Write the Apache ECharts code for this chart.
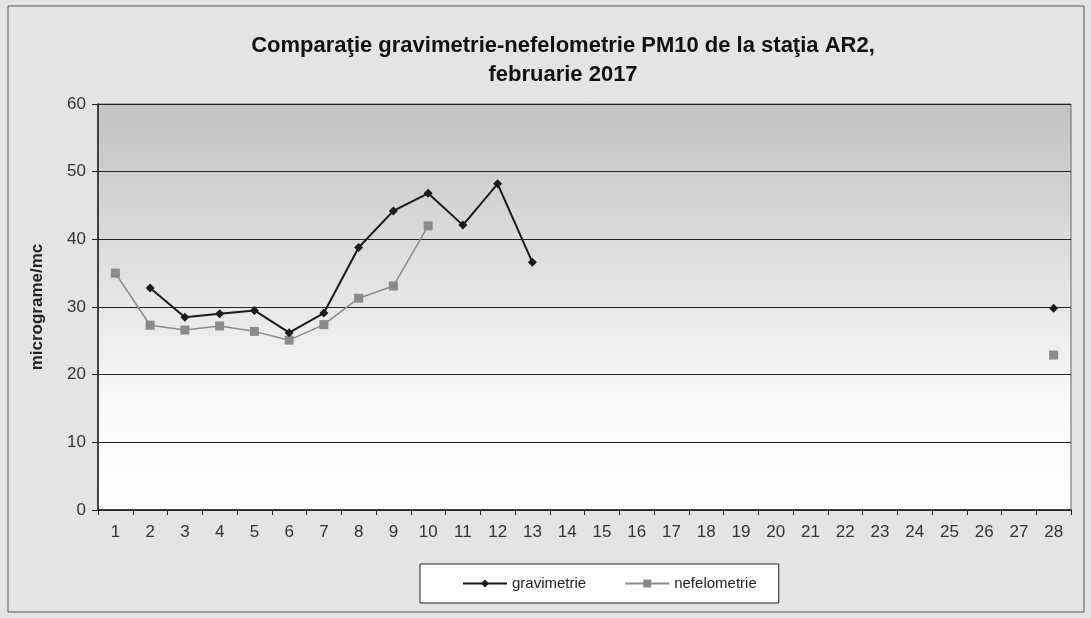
<!DOCTYPE html>
<html>
<head>
<meta charset="utf-8">
<script src="https://cdn.jsdelivr.net/npm/echarts@6/dist/echarts.min.js"></script>
<style>
html, body { margin: 0; padding: 0; background: #ffffff; }
#chart { width: 1091px; height: 618px; }
</style>
</head>
<body>
<div id="chart"></div>
<script>
// zilele lunii
const days = ['1','2','3','4','5','6','7','8','9','10','11','12','13','14','15','16','17','18','19','20','21','22','23','24','25','26','27','28']
// valori
const gravimetrie = [null, 32.8, 28.5, 29.0, 29.5, 26.2, 29.1, 38.8, 44.2, 46.8, 42.1, 48.2, 36.6,
    null, null, null, null, null, null, null, null, null, null, null, null, null, null, 29.8]
const nefelometrie = [35.0, 27.3, 26.6, 27.2, 26.4, 25.1, 27.4, 31.3, 33.1, 42.0, null, null, null,
    null, null, null, null, null, null, null, null, null, null, null, null, null, null, 22.9]

const chart = echarts.init(document.getElementById('chart'))

const option = {
    backgroundColor: '#e4e4e4',
    animation: false,
    textStyle: { fontFamily: 'Liberation Sans, Arial, sans-serif' },
    graphic: [{
        type: 'rect',
        shape: { x: 8, y: 6, width: 1076, height: 606 },
        style: { fill: 'none', stroke: '#555', lineWidth: 1 },
        z: -1
    }],
    title: {
        text: 'Comparaţie gravimetrie-nefelometrie PM10 de la staţia AR2,\nfebruarie 2017',
        left: 558,
        top: 26,
        textAlign: 'center',
        textStyle: { fontSize: 22, fontWeight: 'bold', color: '#111', lineHeight: 29 }
    },
    legend: {
        bottom: 15,
        left: 420,
        data: ['gravimetrie', 'nefelometrie'],
        backgroundColor: '#ffffff',
        borderColor: '#222',
        borderWidth: 1,
        padding: [12, 22, 12, 42],
        itemGap: 38,
        itemWidth: 44,
        itemHeight: 10,
        textStyle: { fontSize: 15, color: '#222' }
    },
    grid: {
        left: 98,
        right: 20,
        top: 104,
        bottom: 108,
        show: true,
        borderColor: '#666',
        borderWidth: 1,
        backgroundColor: new echarts.graphic.LinearGradient(0, 0, 0, 1, [
            { offset: 0, color: '#c2c2c2' },
            { offset: 0.75, color: '#fafafa' },
            { offset: 1, color: '#ffffff' }
        ])
    },
    xAxis: {
        type: 'category',
        data: days,
        boundaryGap: true,
        axisLine: { lineStyle: { color: '#222', width: 1.5 } },
        axisTick: { show: true, length: 5, lineStyle: { color: '#222' } },
        axisLabel: { fontSize: 17, color: '#333', margin: 14 }
    },
    yAxis: {
        type: 'value',
        min: 0,
        max: 60,
        interval: 10,
        name: 'micrograme/mc',
        nameLocation: 'middle',
        nameGap: 52,
        nameTextStyle: { fontSize: 17, fontWeight: 'bold', color: '#222' },
        axisLine: { show: true, lineStyle: { color: '#222', width: 1.5 } },
        axisTick: { show: true, length: 6, lineStyle: { color: '#222' } },
        axisLabel: { fontSize: 17, color: '#333', margin: 12 },
        splitLine: { lineStyle: { color: '#222', width: 1.2 } }
    },
    series: [
        {
            name: 'gravimetrie',
            type: 'line',
            data: gravimetrie,
            connectNulls: false,
            symbol: 'diamond',
            symbolSize: 9,
            lineStyle: { color: '#1a1a1a', width: 2 },
            itemStyle: { color: '#1a1a1a' },
            z: 3
        },
        {
            name: 'nefelometrie',
            type: 'line',
            data: nefelometrie,
            connectNulls: false,
            symbol: 'rect',
            symbolSize: 9,
            lineStyle: { color: '#8a8a8a', width: 1.5 },
            itemStyle: { color: '#8a8a8a' },
            z: 2
        }
    ]
}

chart.setOption(option)
</script>
</body>
</html>
